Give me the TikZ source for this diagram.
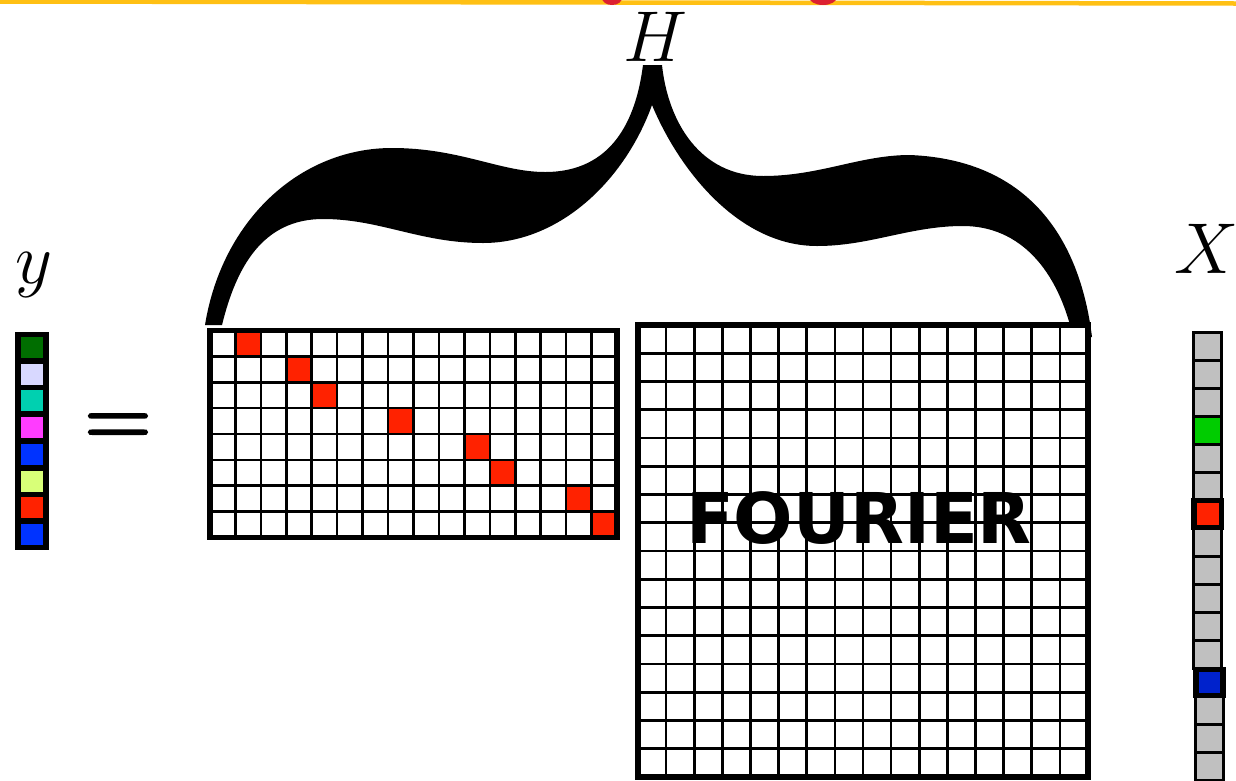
\RequirePackage{fix-cm}
\documentclass[tikz,border=0pt]{standalone}
\usepackage{fontspec}
\newfontfamily\fourierfont{DejaVu Sans}
\newfontfamily\eqfont[FakeBold=2.5]{Latin Modern Roman}
\definecolor{topyellow}{HTML}{FFC014}
\definecolor{titlered}{HTML}{DC2030}
\definecolor{cellred}{HTML}{FF2200}
\definecolor{ydgreen}{HTML}{006E00}
\definecolor{ylav}{HTML}{D8D8FF}
\definecolor{yteal}{HTML}{00D0B0}
\definecolor{ymag}{HTML}{FF3CFF}
\definecolor{yblue}{HTML}{0033FF}
\definecolor{ylime}{HTML}{D8FF78}
\definecolor{xgray}{HTML}{C0C0C0}
\definecolor{xgreen}{HTML}{00CC00}
\definecolor{xblue}{HTML}{0022CC}
\tikzset{
  gridline/.style={line width=2.6pt, black},
  border/.style={line width=5.5pt, black},
  bigmath/.style={inner sep=0pt, anchor=base, font=\fontsize{72}{72}\selectfont},
  xcell/.style={line width=3pt, draw=black, fill=xgray},
}
\begin{document}
\begin{tikzpicture}[x=1pt,y=-1pt]
\useasboundingbox (0,0) rectangle (1236,780);
\clip (0,0) rectangle (1236,780);

% top bar remnants
\draw[line width=4.5pt, topyellow] (0,1.5) -- (1236,3.5);
\fill[titlered] (612,-2) ellipse (10 and 7);
\fill[titlered] (823,-3) ellipse (14 and 8);

% big brace
\fill[black] (205,325) .. controls (222,220) and (300,148) .. (392,148)
  .. controls (460,148) and (500,172) .. (545,172)
  .. controls (612,172) and (636,120) .. (643,65)
  -- (662,65)
  .. controls (668,122) and (700,176) .. (763,176)
  .. controls (820,176) and (860,155) .. (910,155)
  .. controls (1030,160) and (1080,240) .. (1092,337)
  -- (1073,337)
  .. controls (1058,270) and (1020,226) .. (963,226)
  .. controls (910,226) and (870,246) .. (817,246)
  .. controls (740,246) and (680,172) .. (652,105)
  .. controls (625,180) and (560,243) .. (483,243)
  .. controls (420,243) and (380,219) .. (323,219)
  .. controls (262,219) and (236,268) .. (222,325) -- cycle;

% labels
\node[bigmath] (H) at (655,61) {$H$};
\node[bigmath] (ylab) at (34,283) {$y$};
\node[bigmath] (Xlab) at (1207,273) {$X$};
\node[inner sep=0pt, anchor=base] (eq) at (118,447) {\fontsize{92}{92}\eqfont =};

% y vector
\fill[black] (15,332) rectangle (49,550);
\foreach \c [count=\k from 0] in {ydgreen,ylav,yteal,ymag,yblue,ylime,cellred,yblue}
  \fill[\c] (21,337+\k*26.7) rectangle ++(22,21);

% sparse selection matrix (8 x 16)
\fill[white] (210,330.5) rectangle (617,537.5);
\foreach \r/\c in {0/1,1/3,2/4,3/7,4/10,5/11,6/14,7/15}
  \fill[cellred] (210+\c*25.4375,330.5+\r*25.875) rectangle ++(25.4375,25.875);
\foreach \i in {1,...,15}
  \draw[gridline] (210+\i*25.4375,330.5) -- ++(0,207);
\foreach \j in {1,...,7}
  \draw[gridline] (210,330.5+\j*25.875) -- ++(407,0);
\draw[border] (210,330.5) rectangle (617,537.5);

% Fourier matrix (16 x 16)
\fill[white] (638,325) rectangle (1088,777);
\foreach \i in {1,...,15}
  \draw[gridline] (638+\i*28.125,325) -- ++(0,452);
\foreach \j in {1,...,15}
  \draw[gridline] (638,325+\j*28.25) -- ++(450,0);
\draw[border] (638,325) rectangle (1088,777);
\node[inner sep=0pt, anchor=base] (fourier) at (859,543)
  {\fontsize{70}{70}\fourierfont\bfseries FOURIER};

% X vector
\foreach \k in {0,...,11}
  \draw[xcell] (1193.5,332+\k*28) rectangle ++(28,28);
\foreach \k in {13,...,16}
  \draw[xcell] (1195.5,332+\k*28) rectangle ++(28,28);
\draw[xcell, fill=xgreen] (1193.5,416) rectangle ++(28,28);
\draw[line width=5.5pt, fill=cellred] (1193.75,500.5) rectangle (1221.5,527.5);
\draw[line width=5.5pt, fill=xblue] (1195.75,669.5) rectangle (1222.75,695.5);
\end{tikzpicture}
\end{document}
